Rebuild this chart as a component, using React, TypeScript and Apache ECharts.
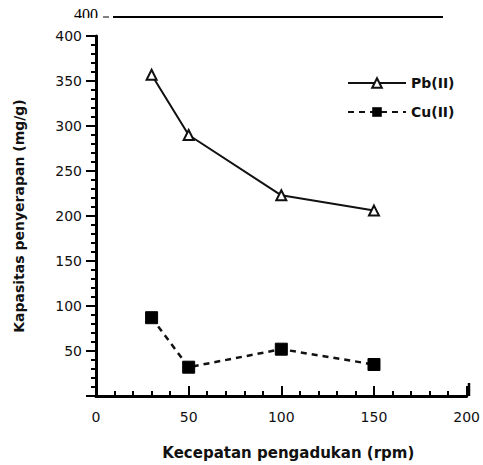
import React, { useEffect, useRef } from "react";
import * as echarts from "echarts";

const speeds = [30, 50, 100, 150];
const pbValues = [357, 290, 223, 206];
const cuValues = [87, 32, 52, 35];
const seriesNames = ["Pb(II)", "Cu(II)"];
const xTitle = "Kecepatan pengadukan (rpm)";
const yTitle = "Kapasitas penyerapan (mg/g)";

export default function App() {
  const ref = useRef<HTMLDivElement>(null);
  useEffect(() => {
    document.body.style.margin = "0";
    document.body.style.overflow = "hidden";
    if (!ref.current) return;
    const chart = echarts.init(ref.current, null, { renderer: "svg" });
    const font = "DejaVu Sans";
    chart.setOption({
      animation: false,
      backgroundColor: "#fff",
      grid: { left: 96, right: 14, top: 36, bottom: 69, containLabel: false },
      legend: {
        orient: "vertical",
        left: 342,
        top: 71,
        itemWidth: 58,
        itemHeight: 12,
        itemGap: 15,
        textStyle: { fontFamily: font, fontWeight: "bold", fontSize: 14, color: "#111" },
        data: seriesNames,
      },
      xAxis: {
        type: "value",
        min: 0,
        max: 200,
        interval: 50,
        name: xTitle,
        nameLocation: "middle",
        nameGap: 49,
        nameTextStyle: { fontFamily: font, fontWeight: "bold", fontSize: 15, color: "#111", padding: [0, 0, 0, 14] },
        axisLine: { lineStyle: { color: "#000", width: 3 } },
        axisTick: { inside: true, length: 10, lineStyle: { color: "#000", width: 2 } },
        minorTick: { show: true, splitNumber: 5, length: 5, lineStyle: { color: "#000", width: 2 } },
        axisLabel: { fontFamily: font, fontSize: 14, color: "#111", margin: 14 },
        splitLine: { show: false },
      },
      yAxis: {
        type: "value",
        min: 0,
        max: 400,
        interval: 50,
        name: yTitle,
        nameLocation: "middle",
        nameGap: 70,
        nameTextStyle: { fontFamily: font, fontWeight: "bold", fontSize: 14, color: "#111" },
        axisLine: { show: true, lineStyle: { color: "#000", width: 3 } },
        axisTick: { show: true, length: 10, lineStyle: { color: "#000", width: 2 } },
        minorTick: { show: true, splitNumber: 5, length: 5, lineStyle: { color: "#000", width: 2 } },
        axisLabel: {
          fontFamily: font,
          fontSize: 14,
          color: "#111",
          margin: 14,
          formatter: (v: number) => (v === 0 ? "" : String(v)),
        },
        splitLine: { show: false },
      },
      series: [
        {
          name: seriesNames[0],
          type: "line",
          data: speeds.map((x, i) => [x, pbValues[i]]),
          symbol: "triangle",
          symbolSize: 10,
          lineStyle: { color: "#111", width: 2, type: "solid" },
          itemStyle: { color: "#fff", borderColor: "#111", borderWidth: 2 },
        },
        {
          name: seriesNames[1],
          type: "line",
          data: speeds.map((x, i) => [x, cuValues[i]]),
          symbol: "rect",
          symbolSize: 12,
          lineStyle: { color: "#111", width: 2.5, type: [6, 5] },
          itemStyle: { color: "#000", borderColor: "#000" },
        },
      ],
      graphic: [
        {
          type: "text",
          left: 74,
          top: 6,
          style: { text: "400", font: "16px serif", fill: "#000" },
          z: 10,
        },
        {
          type: "rect",
          shape: { x: 68, y: 18, width: 45, height: 10 },
          style: { fill: "#fff" },
          z: 11,
        },
        {
          type: "line",
          shape: { x1: 103, y1: 17, x2: 109, y2: 17 },
          style: { stroke: "#000", lineWidth: 1 },
          z: 12,
        },
        {
          type: "line",
          shape: { x1: 113, y1: 17, x2: 443, y2: 17 },
          style: { stroke: "#000", lineWidth: 2 },
          z: 12,
        },
        {
          type: "line",
          shape: { x1: 469, y1: 396, x2: 469, y2: 383 },
          style: { stroke: "#000", lineWidth: 2.5 },
          z: 12,
        },
      ],
    });
    return () => chart.dispose();
  }, []);
  return <div ref={ref} style={{ width: 483, height: 465 }} />;
}
